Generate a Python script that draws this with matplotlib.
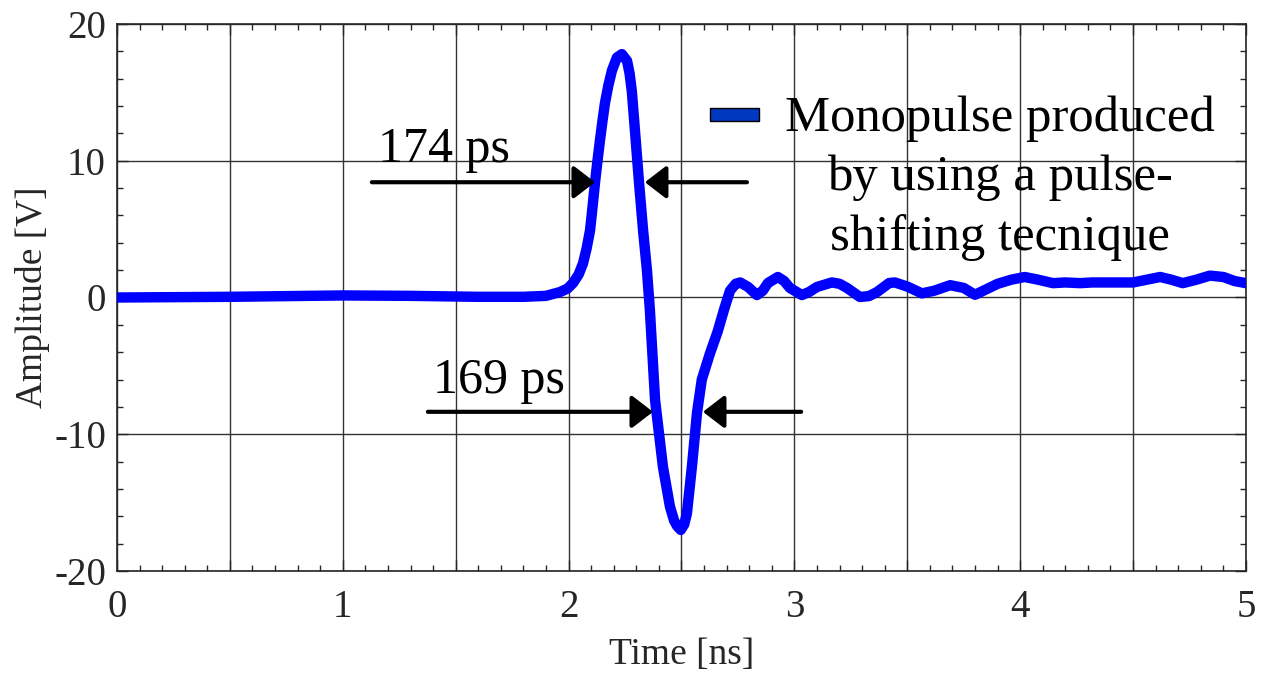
import numpy as np
import matplotlib
matplotlib.use("Agg")
import matplotlib.pyplot as plt
from matplotlib.patches import Rectangle
from matplotlib.ticker import MultipleLocator

plt.rcParams['font.family'] = ['Liberation Serif', 'DejaVu Serif']
plt.rcParams['axes.unicode_minus'] = False

# Monopulse (tiempo en ns, amplitud en V)
tiempo = [0.0, 0.5, 1.0, 1.3, 1.6, 1.8, 1.9, 1.962, 1.995, 2.02, 2.045, 2.064,
          2.08, 2.095, 2.106, 2.117, 2.128, 2.139, 2.15, 2.161, 2.176, 2.192,
          2.214, 2.236, 2.259, 2.27, 2.28, 2.294, 2.312, 2.33, 2.347, 2.36,
          2.383, 2.418, 2.449, 2.467, 2.48, 2.497, 2.512, 2.524, 2.546, 2.569,
          2.59, 2.626, 2.66, 2.69, 2.715, 2.74, 2.76, 2.795, 2.834,
          2.86, 2.883, 2.927, 2.955, 2.98, 3.033, 3.065, 3.1, 3.166, 3.2,
          3.233, 3.29, 3.33, 3.366, 3.42, 3.445, 3.5, 3.565, 3.62, 3.69,
          3.75, 3.8, 3.85, 3.9, 3.96, 4.02, 4.08, 4.145, 4.2, 4.265, 4.32,
          4.385, 4.45, 4.5, 4.56, 4.62, 4.67, 4.72, 4.78, 4.84, 4.9, 4.95, 5.0]
amplitud = [0.0, 0.05, 0.15, 0.12, 0.05, 0.05, 0.12, 0.4, 0.65, 1.06, 1.7, 2.5,
            3.6, 4.9, 6.6, 8.4, 10.0, 11.5, 12.9, 14.2, 15.5, 16.6,
            17.55, 17.8, 17.3, 16.4, 15.1, 12.2, 8.4, 4.9, 2.0, -0.9,
            -7.5, -12.4, -15.3, -16.3, -16.7, -17.0, -16.6, -15.8, -12.4, -8.4,
            -6.0, -4.1, -2.5, -0.8, 0.5, 1.0, 1.1, 0.77, 0.18,
            0.5, 1.06, 1.5, 1.2, 0.7, 0.18, 0.4, 0.77, 1.1, 1.0,
            0.7, 0.04, 0.1, 0.4, 1.06, 1.1, 0.8, 0.3, 0.5, 0.9,
            0.7, 0.2, 0.6, 1.0, 1.3, 1.5, 1.3, 1.05, 1.1, 1.05, 1.1,
            1.1, 1.1, 1.1, 1.3, 1.5, 1.3, 1.05, 1.3, 1.6, 1.5, 1.2, 1.05]

# Anotaciones de ancho de pulso: (texto, x texto, y texto, x inicio, x punta izq, x punta der, x fin, y flecha)
anotaciones = [
    ("174 ps", 1.155, 9.9, 1.129, 2.117, 2.338, 2.79, 8.43),
    ("169 ps", 1.40, -6.95, 1.377, 2.374, 2.595, 3.03, -8.36),
]

etiqueta = "Monopulse produced\nby using a pulse-\nshifting tecnique"

gris = '#262626'
fig = plt.figure(figsize=(12.62, 6.73), dpi=100)
ax = fig.add_axes([0.0927, 0.1516, 0.8946, 0.8127])

ax.plot(tiempo, amplitud, color='#0000ff', lw=7.5, solid_capstyle='round',
        solid_joinstyle='round', zorder=3)

ax.set_xlim(0, 5)
ax.set_ylim(-20, 20)
ax.xaxis.set_major_locator(MultipleLocator(0.5))
ax.xaxis.set_minor_locator(MultipleLocator(0.1))
ax.xaxis.set_major_formatter(plt.FuncFormatter(
    lambda v, p: f"{v:.0f}" if abs(v - round(v)) < 1e-6 else ""))
ax.yaxis.set_major_locator(MultipleLocator(10))
ax.yaxis.set_minor_locator(MultipleLocator(2))
ax.grid(True, which='major', color='#333333', lw=1.0)
ax.tick_params(which='both', direction='in', top=True, right=True,
               colors=gris, labelsize=28)
ax.tick_params(axis='y', pad=8)
ax.tick_params(axis='x', pad=13)
ax.tick_params(which='major', length=8, width=1)
ax.tick_params(which='minor', length=4.5, width=1)
for s in ax.spines.values():
    s.set_color(gris)
    s.set_linewidth(1.2)

ax.set_xlabel("Time [ns]", fontsize=27, color=gris, labelpad=8)
ax.set_ylabel("Amplitude [V]", fontsize=27, color=gris, labelpad=3)

for texto, xt, yt, x0, x1, x2, x3, ya in anotaciones:
    ax.text(xt, yt, texto, fontsize=36, color='k', ha='left', va='baseline', zorder=4)
    flecha = dict(arrowstyle='-|>,head_length=0.65,head_width=0.5', lw=3,
                  color='k', mutation_scale=20, shrinkA=0, shrinkB=0)
    ax.annotate('', xy=(x1, ya), xytext=(x0, ya), arrowprops=flecha, zorder=4)
    ax.annotate('', xy=(x2, ya), xytext=(x3, ya), arrowprops=flecha, zorder=4)

# Leyenda
ax.add_patch(Rectangle((0.525, 0.823), 0.044, 0.023, transform=ax.transAxes,
                       facecolor='#0038c0', edgecolor='k', lw=1, zorder=5))
ax.text(0.782, 0.587, etiqueta, transform=ax.transAxes, fontsize=36.5,
        ha='center', va='baseline', multialignment='center',
        linespacing=1.36, color='k', zorder=5)

fig.savefig("out.png", dpi=100)
